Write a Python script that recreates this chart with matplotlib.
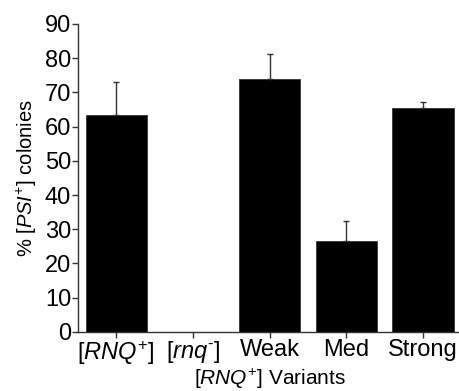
import matplotlib.pyplot as plt
import numpy as np

# data
categories = [r'[$\mathit{RNQ}^{+}$]', r'[$\mathit{rnq}^{‐}$]', 'Weak', 'Med', 'Strong']
values = [63.5, 0.0, 73.8, 26.6, 65.3]
errors_up = [9.6, 0.0, 7.3, 5.9, 1.8]

plt.rcParams['font.family'] = ['Liberation Sans', 'DejaVu Sans']
plt.rcParams['mathtext.fontset'] = 'custom'
plt.rcParams['mathtext.rm'] = 'Liberation Sans'
plt.rcParams['mathtext.it'] = 'Liberation Sans:italic'
plt.rcParams['mathtext.default'] = 'regular'

fig = plt.figure(figsize=(4.59, 3.91), dpi=100)
ax = fig.add_axes([0.17, 0.151, 0.835, 0.788])

x = np.arange(len(categories))
ax.bar(x, values, width=0.8, color='black', edgecolor='#333333', linewidth=0.6)

# upper error bars only, skip empty ones
has_err = np.array(errors_up) > 0
ax.errorbar(x[has_err], np.array(values)[has_err],
            yerr=[np.zeros(has_err.sum()), np.array(errors_up)[has_err]],
            fmt='none', ecolor='#333333', elinewidth=1.0, capsize=2.5, capthick=1.0)

ax.set_xlim(-0.5, 4.5)
ax.set_ylim(0, 90)
ax.set_yticks(np.arange(0, 91, 10))
ax.set_xticks(x)
ax.set_xticklabels(categories)

for s in ['top', 'right']:
    ax.spines[s].set_visible(False)
for s in ['left', 'bottom']:
    ax.spines[s].set_linewidth(1.0)
    ax.spines[s].set_color('#333333')
ax.tick_params(direction='out', length=4, width=1, colors='#333333',
               labelcolor='black', labelsize=17, pad=1)

ax.set_ylabel(r'% [$\mathit{PSI}^{+}$] colonies', fontsize=14.5, labelpad=4)
ax.set_xlabel(r'[$\mathit{RNQ}^{+}$] Variants', fontsize=15, labelpad=0)

fig.savefig('out.png', dpi=100)
